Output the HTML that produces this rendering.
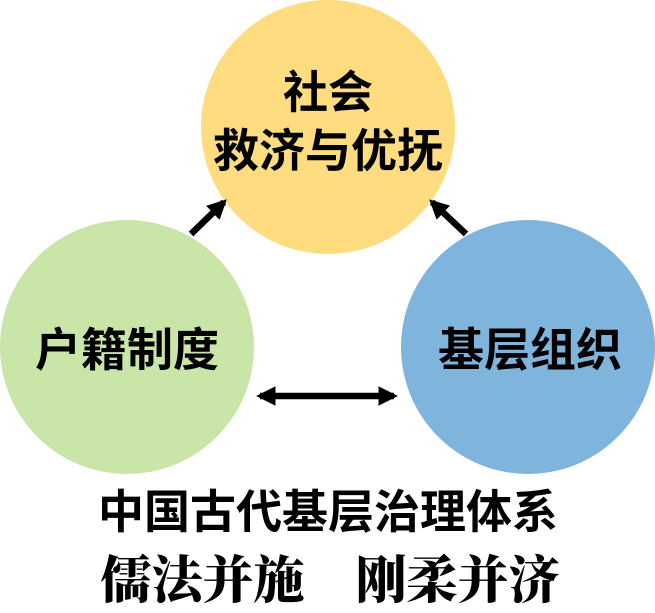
<!DOCTYPE html>
<html><head><meta charset="utf-8"><style>
html,body{margin:0;padding:0;background:#fff;width:655px;height:611px;overflow:hidden}
.t{position:absolute;font-family:"Liberation Sans","Noto Sans CJK SC",sans-serif;font-weight:bold;color:#000;text-align:center;white-space:nowrap;line-height:1}
</style></head><body>
<svg width="655" height="611" style="position:absolute;left:0;top:0">
<defs><marker id="a" viewBox="0 0 10 10" refX="8" refY="5" markerWidth="3" markerHeight="3" orient="auto-start-reverse"><path d="M0,0L10,5L0,10Z" fill="#000"/></marker></defs>
<circle cx="328" cy="127" r="127" fill="#fedc7f"/>
<circle cx="127" cy="347" r="127" fill="#c9e5a8"/>
<circle cx="528" cy="347" r="127" fill="#7fb4dd"/>
<line x1="191" y1="234" x2="224" y2="202" stroke="#000" stroke-width="6.5" marker-end="url(#a)"/>
<line x1="466" y1="234" x2="432" y2="202" stroke="#000" stroke-width="6.5" marker-end="url(#a)"/>
<line x1="260" y1="396" x2="394" y2="396" stroke="#000" stroke-width="6.5" marker-start="url(#a)" marker-end="url(#a)"/>
</svg>
<div class="t" style="left:228px;top:70px;width:200px;font-size:45px">社会</div>
<div class="t" style="left:178px;top:128px;width:300px;font-size:46px">救济与优抚</div>
<div class="t" style="left:27px;top:327px;width:200px;font-size:46px">户籍制度</div>
<div class="t" style="left:430px;top:327px;width:200px;font-size:46px">基层组织</div>
<div class="t" style="left:78px;top:489px;width:500px;font-size:46px">中国古代基层治理体系</div>
<div class="t" style="left:40px;top:551px;width:580px;font-size:51px;font-family:'Noto Serif CJK SC',serif;font-weight:900">儒法并施　刚柔并济</div>
</body></html>
